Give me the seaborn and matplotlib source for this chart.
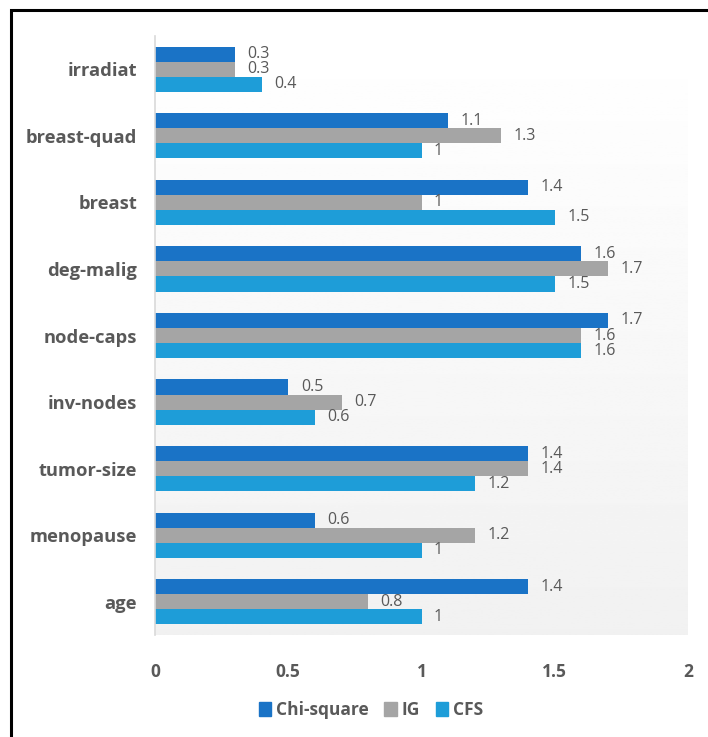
import numpy as np
import pandas as pd
import matplotlib
matplotlib.use("Agg")
import matplotlib.pyplot as plt
import matplotlib.patches as mpatches
import seaborn as sns

features = ["irradiat", "breast-quad", "breast", "deg-malig", "node-caps",
            "inv-nodes", "tumor-size", "menopause", "age"]
chi_square = [0.3, 1.1, 1.4, 1.6, 1.7, 0.5, 1.4, 0.6, 1.4]
ig = [0.3, 1.3, 1.0, 1.7, 1.6, 0.7, 1.4, 1.2, 0.8]
cfs = [0.4, 1.0, 1.5, 1.5, 1.6, 0.6, 1.2, 1.0, 1.0]
methods = ["Chi-square", "IG", "CFS"]
colors = ["#1a73c6", "#a5a5a5", "#1e9dd8"]

df = pd.DataFrame({
    "feature": features * 3,
    "value": chi_square + ig + cfs,
    "method": [m for m in methods for _ in features],
})

sns.set_theme(style="white")
plt.rcParams["font.family"] = ["Open Sans", "DejaVu Sans"]
text_gray = "#595959"

fig = plt.figure(figsize=(7.08, 7.37), dpi=100)
ax = fig.add_axes([155 / 708, 1 - 635 / 737, (688 - 155) / 708, (635 - 36) / 737])

# soft vertical gradient behind the bars
grad = np.linspace(1.0, 0.945, 256).reshape(-1, 1)
ax.imshow(grad, cmap="gray", vmin=0, vmax=1, aspect="auto",
          extent=[0, 1, 0, 1], transform=ax.transAxes, zorder=0)

sns.barplot(data=df, y="feature", x="value", hue="method", orient="h",
            order=features, hue_order=methods, palette=colors, saturation=1,
            width=0.68, ax=ax, legend=False, zorder=2, linewidth=0)

for cont in ax.containers:
    ax.bar_label(cont, labels=[f"{v:g}" for v in cont.datavalues],
                 padding=9, fontsize=11.5, color=text_gray)

ax.set_xlim(0, 2)
ax.set_ylim(len(features) - 0.5, -0.5)
ax.set_xticks([0, 0.5, 1, 1.5, 2])
ax.set_xticklabels(["0", "0.5", "1", "1.5", "2"])
ax.set_xlabel("")
ax.set_ylabel("")
ax.tick_params(axis="x", length=0, pad=20, labelsize=12.5, labelcolor=text_gray)
ax.tick_params(axis="y", length=0, pad=13, labelsize=13.2, labelcolor=text_gray)
for lab in ax.get_xticklabels() + ax.get_yticklabels():
    lab.set_fontweight("bold")
for s in ["top", "right", "bottom"]:
    ax.spines[s].set_visible(False)
ax.spines["left"].set_color("#d9d9d9")
ax.spines["left"].set_linewidth(1.2)
ax.spines["left"].set_zorder(3)

handles = [mpatches.Patch(color=c, label=m) for c, m in zip(colors, methods)]
leg = fig.legend(handles=handles, loc="center", bbox_to_anchor=(371 / 708, 1 - 710 / 737),
                 ncol=3, frameon=False, handlelength=0.7, handleheight=0.9,
                 handletextpad=0.3, columnspacing=0.9, fontsize=12.5)
for t in leg.get_texts():
    t.set_color(text_gray)
    t.set_fontweight("bold")

# outer black frame
frame = mpatches.Rectangle((11 / 708, -0.1), 1.2, 1 - 10 / 737 + 0.1,
                           transform=fig.transFigure, fill=False,
                           edgecolor="black", linewidth=2.2, clip_on=False)
fig.patches.append(frame)

fig.savefig("out.png", dpi=100, facecolor="white")
